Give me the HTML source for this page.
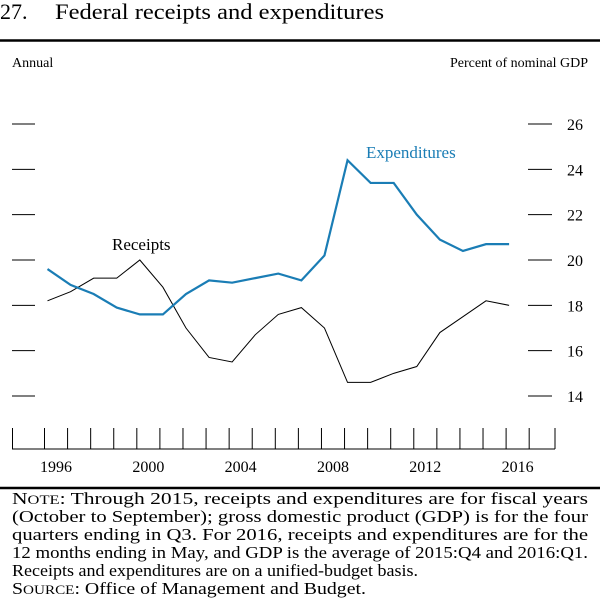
<!DOCTYPE html>
<html><head><meta charset="utf-8"><style>
body{margin:0;background:#fff;width:600px;height:616px;overflow:hidden;font-family:"Liberation Serif",serif;color:#000}
</style></head><body>
<svg width="600" height="616" viewBox="0 0 600 616" style="position:absolute;left:0;top:0">
<text x="0" y="19" font-size="22">27.</text>
<text x="55" y="19" font-size="22" textLength="329" lengthAdjust="spacingAndGlyphs">Federal receipts and expenditures</text>
<line x1="0" y1="40.5" x2="600" y2="40.5" stroke="#000" stroke-width="2.5"/>
<text x="12" y="67" font-size="14">Annual</text>
<text x="588" y="67" font-size="14" text-anchor="end">Percent of nominal GDP</text>
<g id="axes"></g>
<g id="series"></g>
<text x="112" y="250" font-size="17">Receipts</text>
<text x="366" y="158" font-size="17" fill="#1a7db5">Expenditures</text>
<line x1="0" y1="488" x2="600" y2="488" stroke="#000" stroke-width="2.5"/>
<g font-size="17">
<text x="12" y="504" textLength="576" lengthAdjust="spacingAndGlyphs">N<tspan font-size="13">OTE</tspan>: Through 2015, receipts and expenditures are for fiscal years</text>
<text x="12" y="522" textLength="576" lengthAdjust="spacingAndGlyphs">(October to September); gross domestic product (GDP) is for the four</text>
<text x="12" y="540" textLength="576" lengthAdjust="spacingAndGlyphs">quarters ending in Q3. For 2016, receipts and expenditures are for the</text>
<text x="12" y="558" textLength="576" lengthAdjust="spacingAndGlyphs">12 months ending in May, and GDP is the average of 2015:Q4 and 2016:Q1.</text>
<text x="12" y="576" textLength="406" lengthAdjust="spacingAndGlyphs">Receipts and expenditures are on a unified-budget basis.</text>
<text x="12" y="594" textLength="354" lengthAdjust="spacingAndGlyphs">S<tspan font-size="13">OURCE</tspan>:  Office of Management and Budget.</text>
</g>
</svg>
<script>
const years=[1996,1997,1998,1999,2000,2001,2002,2003,2004,2005,2006,2007,2008,2009,2010,2011,2012,2013,2014,2015,2016];
const receipts=[18.2,18.6,19.2,19.2,20.0,18.8,17.0,15.7,15.5,16.7,17.6,17.9,17.0,14.6,14.6,15.0,15.3,16.8,17.5,18.2,18.0];
const expenditures=[19.6,18.9,18.5,17.9,17.6,17.6,18.5,19.1,19.0,19.2,19.4,19.1,20.2,24.4,23.4,23.4,22.0,20.9,20.4,20.7,20.7];
const yTicks=[14,16,18,20,22,24,26];
const xLabels=[1996,2000,2004,2008,2012,2016];
const NS="http://www.w3.org/2000/svg";
const xs=y=>47.5+(y-1996)*23.08;
const ys=v=>396-(v-14)*(272/12);
const axes=document.getElementById('axes');
function mk(tag,attrs,parent){const e=document.createElementNS(NS,tag);for(const k in attrs)e.setAttribute(k,attrs[k]);parent.appendChild(e);return e;}
yTicks.forEach(t=>{
  const y=ys(t);
  const l=mk('line',{x1:12,x2:35,y1:y,y2:y,stroke:'#000','stroke-width':1},axes);
  
  
  const r=mk('line',{x1:528,x2:552,y1:y,y2:y,stroke:'#000','stroke-width':1},axes);
  
  
  const tx=mk('text',{x:567,y:y+6,'font-size':16},axes);
  tx.textContent=t;
  
  
});
const base=mk('line',{x1:12,x2:555,y1:449,y2:449,stroke:'#000','stroke-width':1},axes);


for(let i=0;i<=23;i++){
  const x=i===0?12.5:(i===23?555:xs(1996+i-1)-3);
  const t=mk('line',{x1:x,x2:x,y1:428,y2:449,stroke:'#000','stroke-width':1},axes);
  
  
}
xLabels.forEach(yv=>{
  const t=mk('text',{x:xs(yv)+8.5,y:472,'font-size':16,'text-anchor':'middle'},axes);
  t.textContent=yv;
  
  
});
const ser=document.getElementById('series');
const pr=mk('polyline',{points:years.map((y,i)=>xs(y)+','+ys(receipts[i])).join(' '),fill:'none',stroke:'#000','stroke-width':1},ser);


const pe=mk('polyline',{points:years.map((y,i)=>xs(y)+','+ys(expenditures[i])).join(' '),fill:'none',stroke:'#1a7db5','stroke-width':2.2},ser);


</script>
</body></html>
